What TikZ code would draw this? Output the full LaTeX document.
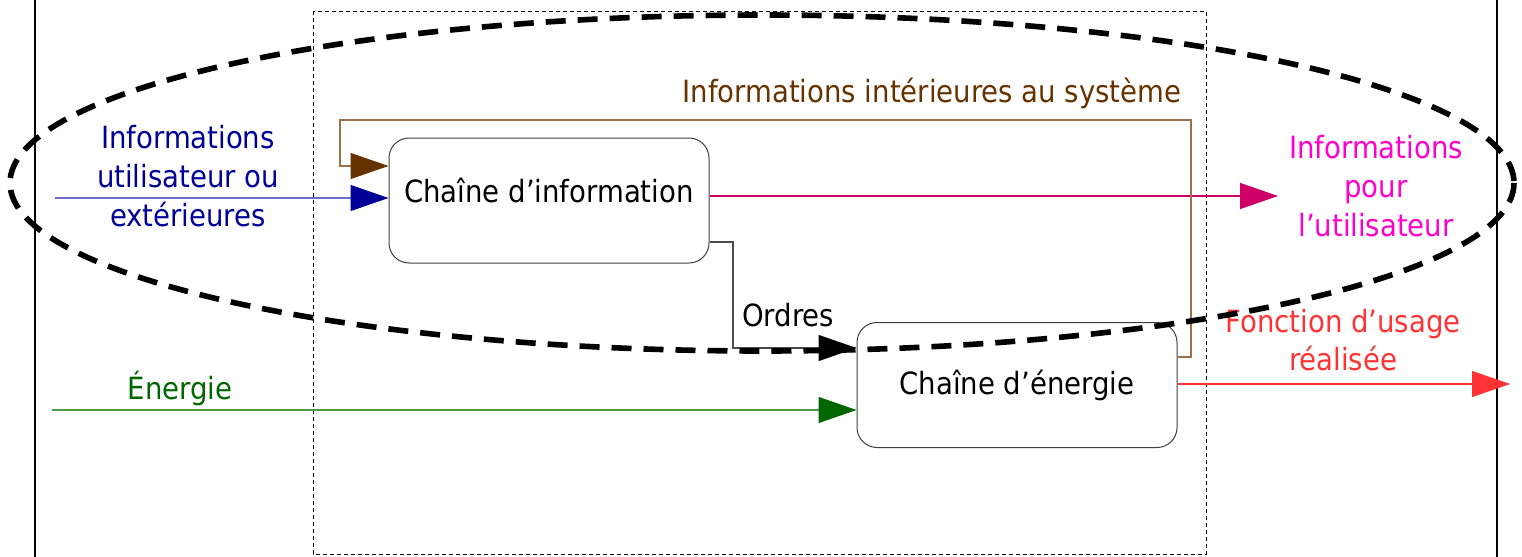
\documentclass[tikz,border=0pt]{standalone}
\usepackage{fontspec}
\setmainfont{DejaVu Sans Condensed}
\usetikzlibrary{arrows.meta,calc}
\definecolor{ublue}{HTML}{000099}
\definecolor{ubluel}{HTML}{6B6BC8}
\definecolor{ibrown}{HTML}{663300}
\definecolor{ibrownl}{HTML}{9C7048}
\definecolor{umag}{HTML}{FF00CC}
\definecolor{umagd}{HTML}{CC0066}
\definecolor{egreen}{HTML}{006600}
\definecolor{egreenl}{HTML}{4A9A4A}
\definecolor{fred}{HTML}{FF3333}
\begin{document}
\begin{tikzpicture}[x=0.5pt,y=-0.5pt, font=\fontsize{15.3}{19.3}\selectfont,
 chain/.style={draw=black!75, line width=0.5pt, rounded corners=10pt, minimum width=160pt, minimum height=62.5pt, inner sep=0pt, fill=white},
 lbl/.style={align=center, inner sep=0pt},
 conn/.style={line width=0.55pt},
 ahead/.style={-{Triangle[length=19pt,width=13pt,color=#1]}}
]
\useasboundingbox (0,0) rectangle (1522,557);
% frame lines
\draw[line width=0.75pt] (35,0) -- (35,557);
\draw[line width=0.75pt] (1497,0) -- (1497,557);
% system boundary
\draw[line width=0.5pt, dash pattern=on 2pt off 1.5pt] (313,11) rectangle (1206,554);
% blocks
\node[chain, text depth=10pt] (I) at (549,200.5) {Chaîne d’information};
\node[chain] (E) at (1017,385) {Chaîne d’énergie};
% labels
\node[lbl, text=ublue] (tu) at (188,176) {Informations\\utilisateur ou\\extérieures};
\node[lbl, text=umag] (tp) at (1376,186) {Informations\\pour\\l’utilisateur};
\node[lbl, text=fred] (tf) at (1343,340) {Fonction d’usage\\réalisée};
\node[lbl, text=ibrown] (ti) at (932,93) {Informations intérieures au système};
\node[lbl] (to) at (788,315) {Ordres};
\node[lbl, text=egreen] (te) at (180,388) {Énergie};
% coordinates for free ends and bends
\coordinate (bs) at (55,198);
\coordinate (ms) at (1278,196);
\coordinate (gs) at (52,410);
\coordinate (rs) at (1510,384);
\coordinate (o1) at (733,242);
\coordinate (o2) at (733,348);
\coordinate (b1) at (1191,357);
\coordinate (b2) at (1191,120);
\coordinate (b3) at (340,120);
\coordinate (b4) at (340,166);
% connectors
\draw[conn, draw=ubluel, ahead=ublue] (bs) -- (bs -| I.west);
\draw[conn, draw=umagd, ahead=umagd] (I.east |- ms) -- (ms);
\draw[conn, draw=egreenl, ahead=egreen] (gs) -- (gs -| E.west);
\draw[conn, draw=fred, ahead=fred] (rs -| E.east) -- (rs);
\draw[conn, draw=black!70, ahead=black] (I.east |- o1) -- (o1) -- (o2) -- (o2 -| E.west);
\draw[conn, draw=ibrownl, ahead=ibrown] (E.east |- b1) -- (b1) -- (b2) -- (b3) -- (b4) -- (b4 -| I.west);
% ellipse
\draw[line width=2.8pt, dash pattern=on 10pt off 6pt] (762,183) ellipse [x radius=752, y radius=168];
\end{tikzpicture}
\end{document}
